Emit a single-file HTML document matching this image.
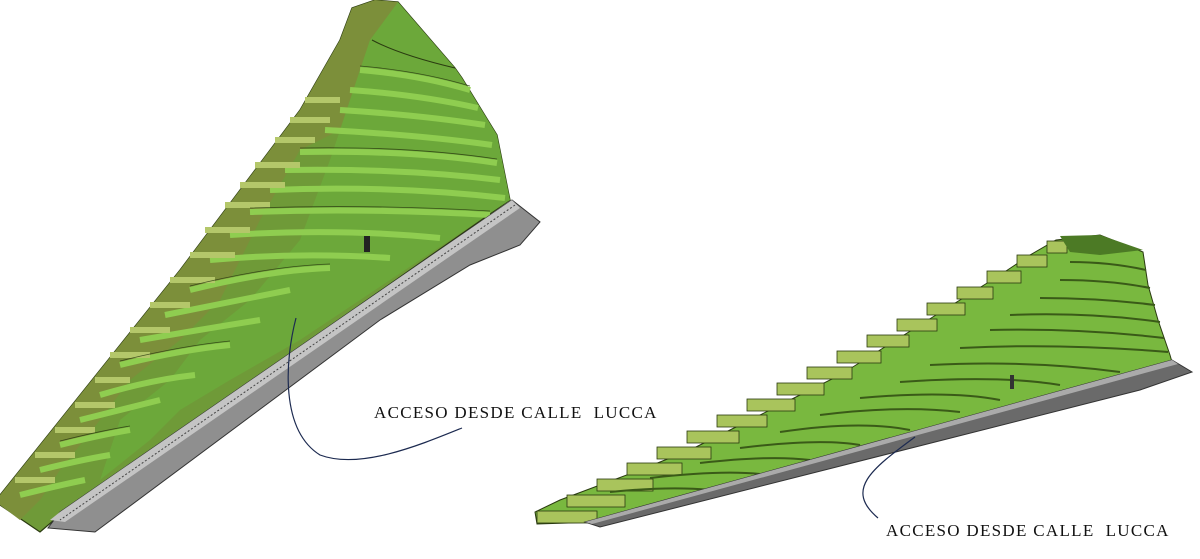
<!DOCTYPE html>
<html><head><meta charset="utf-8"><style>
html,body{margin:0;padding:0;background:#fff;}
svg{display:block}
text{font-family:"Liberation Serif",serif;font-size:17px;fill:#111;letter-spacing:1.3px}
</style></head><body>
<svg width="1200" height="559" viewBox="0 0 1200 559">
<!-- LEFT TERRAIN -->
<polygon points="352,8 375,0 398,2 455,68 462,78 497,135 510,200 60,515 40,532 0,505 0,495 60,420 120,345 180,270 240,190 300,110 340,40" fill="#6f9a38" stroke="#2a3a10" stroke-width="1.2"/>
<polygon points="352,8 375,0 398,2 370,40 340,130 300,150 260,220 220,300 180,340 130,380 100,420 60,470 40,500 20,520 0,505 0,495 60,420 120,345 180,270 240,190 300,110 340,40" fill="#7c8f3a"/>
<polygon points="370,40 398,2 455,68 462,78 497,135 510,200 300,340 230,380 180,410 150,440 100,480 120,420 170,380 200,340 250,300 300,240 330,160" fill="#6ca83a"/>
<g stroke="#2a3a10" stroke-width="1" fill="none">
<path d="M372,40 Q400,55 455,68"/>
</g>
<g stroke="#8fcd50" stroke-width="6" fill="none">
<path d="M360,70 Q420,75 470,90"/>
<path d="M350,90 Q420,95 478,108"/>
<path d="M340,110 Q420,115 485,125"/>
<path d="M325,130 Q420,135 492,145"/>
<path d="M300,152 Q410,150 497,163"/>
<path d="M285,170 Q400,168 500,180"/>
<path d="M270,190 Q390,185 505,198"/>
<path d="M250,212 Q370,208 490,215"/>
<path d="M230,235 Q340,228 440,238"/>
<path d="M210,260 Q300,252 390,258"/>
<path d="M190,290 Q270,270 330,268"/>
<path d="M165,315 Q240,300 290,290"/>
<path d="M140,340 Q210,328 260,320"/>
<path d="M120,365 Q180,350 230,345"/>
<path d="M100,395 Q150,380 195,375"/>
<path d="M80,420 Q120,410 160,400"/>
<path d="M60,445 Q100,435 130,430"/>
<path d="M40,470 Q80,460 110,455"/>
<path d="M20,495 Q60,485 85,480"/>
</g>
<g stroke="#b4c76a" stroke-width="6" fill="none">
<path d="M305,100 L340,100"/><path d="M290,120 L330,120"/><path d="M275,140 L315,140"/>
<path d="M255,165 L300,165"/><path d="M240,185 L285,185"/><path d="M225,205 L270,205"/>
<path d="M205,230 L250,230"/><path d="M190,255 L235,255"/><path d="M170,280 L215,280"/>
<path d="M150,305 L190,305"/><path d="M130,330 L170,330"/><path d="M110,355 L150,355"/>
<path d="M95,380 L130,380"/><path d="M75,405 L115,405"/><path d="M55,430 L95,430"/>
<path d="M35,455 L75,455"/><path d="M15,480 L55,480"/>
</g>
<g stroke="#2a3a10" stroke-width="0.8" fill="none" opacity="0.8">
<path d="M360,66 Q420,71 470,86"/><path d="M300,148 Q410,146 497,159"/><path d="M250,208 Q370,204 490,211"/>
<path d="M190,286 Q270,266 330,264"/><path d="M120,361 Q180,346 230,341"/><path d="M60,441 Q100,431 130,426"/>
</g>
<polygon points="512,200 540,222 520,245 470,265 380,320 95,532 48,528 60,512" fill="#8f8f8f" stroke="#333" stroke-width="1"/>
<polygon points="512,200 520,208 65,522 50,520 60,512" fill="#c4c4c4"/>
<line x1="515" y1="205" x2="60" y2="520" stroke="#444" stroke-width="1" stroke-dasharray="2,2"/>
<rect x="364" y="236" width="6" height="16" fill="#222"/>
<!-- RIGHT TERRAIN -->
<polygon points="1056,240 1100,235 1143,252 1148,285 1158,320 1170,355 1172,362 640,510 600,522 537,524 535,512 560,500 600,485 640,470 690,450 740,425 790,400 840,375 880,350 920,325 960,300 1000,275 1030,255" fill="#79b83f" stroke="#2a3a10" stroke-width="1"/>
<g fill="#a9c45c" stroke="#2a3a10" stroke-width="0.8">
<rect x="537" y="511" width="60" height="12"/><rect x="567" y="495" width="58" height="12"/>
<rect x="597" y="479" width="56" height="12"/><rect x="627" y="463" width="55" height="12"/>
<rect x="657" y="447" width="54" height="12"/><rect x="687" y="431" width="52" height="12"/>
<rect x="717" y="415" width="50" height="12"/><rect x="747" y="399" width="48" height="12"/>
<rect x="777" y="383" width="47" height="12"/><rect x="807" y="367" width="45" height="12"/>
<rect x="837" y="351" width="44" height="12"/><rect x="867" y="335" width="42" height="12"/>
<rect x="897" y="319" width="40" height="12"/><rect x="927" y="303" width="38" height="12"/>
<rect x="957" y="287" width="36" height="12"/><rect x="987" y="271" width="34" height="12"/>
<rect x="1017" y="255" width="30" height="12"/><rect x="1047" y="241" width="20" height="12"/>
</g>
<polygon points="1060,236 1100,235 1143,250 1100,255 1070,252" fill="#4c7a25"/>
<g stroke="#3a5a18" stroke-width="2" fill="none">
<path d="M1070,262 Q1110,262 1146,270"/><path d="M1060,280 Q1110,280 1150,288"/>
<path d="M1040,298 Q1100,298 1155,305"/><path d="M1010,315 Q1090,312 1160,322"/>
<path d="M990,330 Q1080,328 1164,338"/><path d="M960,348 Q1060,343 1168,352"/>
<path d="M930,365 Q1030,360 1120,372"/><path d="M900,382 Q1000,375 1060,385"/>
<path d="M860,398 Q950,390 1000,400"/><path d="M820,415 Q900,405 960,412"/>
<path d="M780,432 Q860,420 910,430"/><path d="M740,448 Q820,438 860,445"/>
<path d="M700,463 Q770,455 810,460"/><path d="M650,478 Q720,470 760,474"/>
<path d="M610,492 Q670,486 710,490"/>
</g>
<polygon points="1172,360 1192,372 1140,390 600,527 585,522" fill="#6a6a6a" stroke="#333" stroke-width="1"/>
<polygon points="1172,360 1178,364 592,524 585,522" fill="#aaa"/>
<rect x="1010" y="375" width="4" height="14" fill="#333"/>
<path d="M296,318 C285,360 280,430 320,455 C360,470 420,445 462,428" stroke="#1c2a50" stroke-width="1.2" fill="none"/>
<path d="M915,437 C870,470 845,490 878,518" stroke="#1c2a50" stroke-width="1.2" fill="none"/>
<text x="374" y="418">ACCESO DESDE CALLE&#160;&#160;LUCCA</text>
<text x="886" y="536">ACCESO DESDE CALLE&#160;&#160;LUCCA</text>
</svg>
</body></html>
